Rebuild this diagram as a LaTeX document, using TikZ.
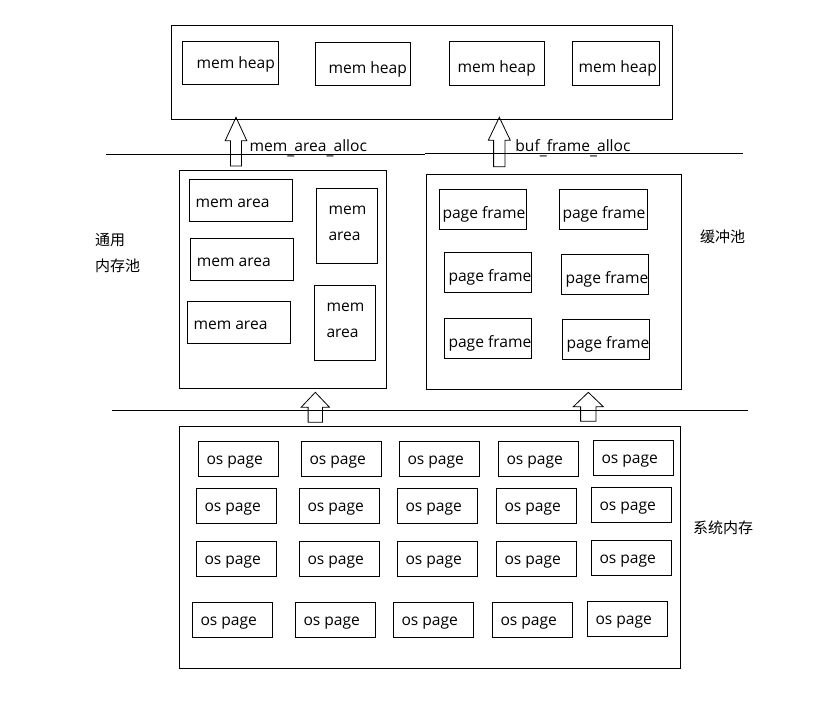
\documentclass[tikz,border=0pt]{standalone}
\usepackage{fontspec}
\setmainfont{Open Sans}
\newfontfamily\cjk{Noto Sans CJK SC}
\newcommand\lowus{\raisebox{-3pt}{\_}}
\tikzset{
  poolbox/.style={draw, line width=1pt, inner sep=0pt, anchor=north west},
  cellbox/.style={draw, line width=1pt, inner sep=0pt, anchor=north west},
  celltext/.style={inner sep=0pt, anchor=west, align=left, font=\fontsize{15.6}{26}\selectfont},
  sidetext/.style={inner sep=0pt, anchor=west, align=left, font=\cjk\fontsize{15}{26}\selectfont},
  levelline/.style={line width=1pt},
  blockarrow/.style={draw, line width=0.8pt, line join=miter},
}
% name, x1, y1, x2, y2
\newcommand\pool[5]{%
  \node[poolbox, minimum width={#4-#2}, minimum height={#5-#3}] (#1) at (#2,#3) {};}
% name, x1, y1, x2, y2, left pad, dy, text
\newcommand\cell[8]{%
  \node[cellbox, minimum width={#4-#2}, minimum height={#5-#3}] (#1) at (#2,#3) {};
  \node[celltext] (#1t) at ([xshift=#6pt, yshift={#7-3}]#1.west) {#8};}
% name, x1, y1
\newcommand\ospage[3]{\cell{#1}{#2}{#3}{#2+80}{#3+35}{8}{0}{os page}}
% name, tip x, tip y, head base y, head half width, shaft half width, bottom y
\newcommand\blockup[7]{%
  \coordinate (#1) at (#2,#3);
  \draw[blockarrow] (#1) -- ({#2+#5},#4) -- ({#2+#6},#4) -- ({#2+#6},#7)
    -- ({#2-#6},#7) -- ({#2-#6},#4) -- ({#2-#5},#4) -- cycle;}
\begin{document}
\begin{tikzpicture}[x=1pt, y=-1pt]
\useasboundingbox (0,0) rectangle (819,705);

% top pool
\pool{top}{171}{25}{672}{119}
\cell{h1}{182.3}{41.3}{277.7}{84.3}{14}{2}{mem heap}
\cell{h2}{315.3}{42.3}{409.7}{85.3}{13}{-2}{mem heap}
\cell{h3}{449.3}{41.3}{543.7}{85.3}{8}{-2}{mem heap}
\cell{h4}{572.3}{41.3}{658.7}{85.3}{6}{-2}{mem heap}

% arrows
\blockup{a1}{236}{117.3}{140.7}{10.8}{5.5}{166}
\blockup{a2}{499.3}{117.3}{140.3}{11}{5.7}{166.7}
\blockup{a3}{315.3}{392.3}{407.3}{14.2}{7.2}{422.3}
\blockup{a4}{588.3}{392.3}{406.7}{15}{7.7}{421.3}

\node[celltext, anchor=base west] (lab1) at (249.5,151) {mem\lowus area\lowus alloc};
\node[celltext, anchor=base west] (lab2) at (515.2,151) {buf\lowus frame\lowus alloc};

% level lines
\coordinate (l1a) at (106,154.3);
\coordinate (l1b) at (425,154.3);
\coordinate (l2a) at (425,153.3);
\coordinate (l2b) at (742.7,153.3);
\coordinate (l3a) at (112.3,410.3);
\coordinate (l3b) at (747.7,410.3);
\draw[levelline] (l1a) -- (l1b);
\draw[levelline] (l2a) -- (l2b);
\draw[levelline] (l3a) -- (l3b);

% general memory pool
\pool{gen}{179.3}{170.3}{386.3}{387.7}
\cell{m1}{189.3}{179.3}{292.3}{221.3}{6}{0}{mem area}
\cell{m2}{190.3}{238.3}{293.3}{280.3}{6.4}{0}{mem area}
\cell{m3}{187.3}{301.3}{290.3}{343.3}{6}{0}{mem area}
\cell{m4}{316.3}{188.3}{377.3}{263.3}{12}{6}{mem\\area}
\cell{m5}{314.3}{285.3}{375.3}{360.3}{12}{6}{mem\\area}
\node[sidetext] (genlab) at (95,253) {通用\\内存池};

% buffer pool
\pool{buf}{426.3}{173.7}{681.3}{389.3}
\cell{p1}{439.3}{189.3}{526.3}{229.3}{3}{-2}{page frame}
\cell{p2}{559.3}{189.3}{646.7}{229.3}{3}{-2}{page frame}
\cell{p3}{444.3}{252.3}{531.3}{292.3}{4}{-2}{page frame}
\cell{p4}{561.3}{254.3}{648.3}{294.3}{4}{-2}{page frame}
\cell{p5}{444.3}{318.3}{531.3}{358.3}{4}{-2}{page frame}
\cell{p6}{562.3}{319.3}{649.3}{359.3}{4}{-2}{page frame}
\node[sidetext] (buflab) at (700,236.7) {缓冲池};

% system memory
\pool{sys}{179.3}{426.3}{680}{667.7}
\ospage{o11}{198.3}{441.3}
\ospage{o12}{301.3}{441.3}
\ospage{o13}{399.3}{441.3}
\ospage{o14}{498.3}{441.3}
\ospage{o15}{593.3}{440.3}
\ospage{o21}{196.3}{488.3}
\ospage{o22}{299.3}{488.3}
\ospage{o23}{397.3}{488.3}
\ospage{o24}{496.3}{488.3}
\ospage{o25}{591.3}{487.3}
\ospage{o31}{196.3}{541.3}
\ospage{o32}{299.3}{541.3}
\ospage{o33}{397.3}{541.3}
\ospage{o34}{496.3}{541.3}
\ospage{o35}{591.3}{540.3}
\ospage{o41}{192.3}{602.3}
\ospage{o42}{295.3}{602.3}
\ospage{o43}{393.3}{602.3}
\ospage{o44}{492.3}{602.3}
\ospage{o45}{587.3}{601.3}
\node[sidetext] (syslab) at (693,528) {系统内存};
\end{tikzpicture}
\end{document}
